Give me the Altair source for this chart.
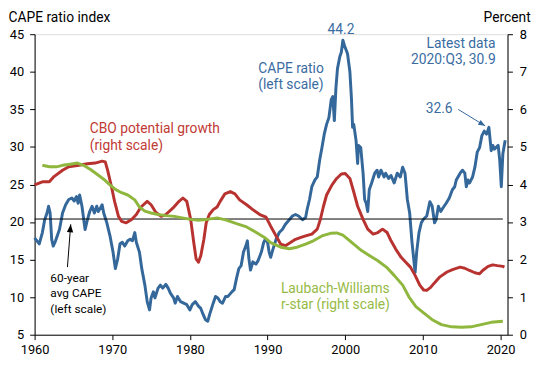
import altair as alt
import pandas as pd

# ---------------- data ----------------
cape_years = [1960.0, 1960.3, 1960.6, 1961.0, 1961.3, 1961.6, 1961.8, 1962.0, 1962.2, 1962.4,
              1962.7, 1963.2, 1963.6, 1964.0, 1964.4, 1964.8, 1965.1, 1965.4, 1965.6, 1965.8,
              1966.1, 1966.5, 1966.8, 1967.1, 1967.4, 1967.7, 1968.0, 1968.2, 1968.5, 1968.7,
              1968.9, 1969.3, 1969.7, 1970.1, 1970.4, 1970.7, 1971.0, 1971.3, 1971.6, 1972.0,
              1972.3, 1972.6, 1972.9, 1973.1, 1973.5, 1973.8, 1974.2, 1974.5, 1974.8, 1975.0,
              1975.3, 1975.5, 1975.9, 1976.2, 1976.5, 1976.9, 1977.2, 1977.5, 1977.9, 1978.1,
              1978.4, 1978.8, 1979.2, 1979.6, 1980.0, 1980.3, 1980.7, 1981.1, 1981.4, 1981.7,
              1982.0, 1982.3, 1982.6, 1983.0, 1983.3, 1983.6, 1983.9, 1984.2, 1984.6, 1984.9,
              1985.4, 1985.7, 1986.0, 1986.3, 1986.6, 1986.9, 1987.2, 1987.4, 1987.6, 1987.8,
              1988.1, 1988.5, 1988.8, 1989.2, 1989.5, 1989.7, 1990.0, 1990.2, 1990.4, 1990.7,
              1991.1, 1991.5, 1991.9, 1992.3, 1992.8, 1993.2, 1993.6, 1994.0, 1994.5, 1994.9,
              1995.1, 1995.4, 1995.7, 1996.1, 1996.4, 1996.7, 1997.0, 1997.3, 1997.6, 1997.9,
              1998.2, 1998.4, 1998.6, 1998.8, 1999.0, 1999.3, 1999.5, 1999.7, 1999.9, 2000.3,
              2000.6, 2000.8, 2000.95, 2001.1, 2001.4, 2001.6, 2001.7, 2002.0, 2002.3, 2002.5,
              2002.7, 2002.9, 2003.1, 2003.4, 2003.8, 2004.1, 2004.3, 2004.6, 2005.0, 2005.2,
              2005.6, 2005.9, 2006.3, 2006.7, 2007.1, 2007.4, 2007.7, 2008.0, 2008.3, 2008.6,
              2009.0, 2009.2, 2009.5, 2009.8, 2010.1, 2010.5, 2010.9, 2011.2, 2011.5, 2011.7,
              2012.0, 2012.3, 2012.6, 2013.0, 2013.4, 2013.8, 2014.1, 2014.3, 2014.8, 2015.1,
              2015.4, 2015.6, 2015.8, 2016.0, 2016.4, 2016.7, 2017.0, 2017.3, 2017.6, 2017.9,
              2018.2, 2018.5, 2018.8, 2019.0, 2019.2, 2019.5, 2019.7, 2019.9, 2020.1, 2020.3,
              2020.6]
cape_values = [17.9, 17.5, 17.1, 18.6, 20.3, 21.2, 22.1, 21.2, 17.7, 16.8,
               17.5, 19.0, 21.2, 22.3, 23.0, 23.2, 22.8, 23.4, 22.5, 23.6,
               22.1, 19.0, 20.3, 21.4, 22.1, 21.2, 22.1, 21.4, 21.9, 22.3,
               21.2, 19.9, 18.2, 16.0, 13.8, 15.1, 17.1, 17.3, 16.8, 17.5,
               17.7, 17.5, 18.6, 17.3, 16.0, 13.8, 11.6, 9.4, 8.3, 9.9,
               10.7, 9.9, 11.2, 11.6, 11.2, 11.7, 11.2, 10.5, 9.9, 9.2,
               10.1, 9.4, 9.2, 9.0, 8.3, 9.0, 9.4, 8.8, 8.5, 7.7,
               7.0, 6.8, 7.9, 9.2, 10.1, 9.9, 9.4, 9.2, 10.1, 10.1,
               10.7, 11.0, 12.5, 13.8, 14.2, 16.0, 16.8, 17.5, 15.1, 13.6,
               14.7, 14.4, 14.9, 16.0, 17.3, 17.7, 17.3, 16.0, 15.3, 16.4,
               17.7, 18.6, 19.0, 19.7, 20.3, 20.8, 21.0, 20.8, 20.3, 20.6,
               21.7, 23.0, 24.7, 25.6, 26.0, 28.2, 29.9, 31.7, 33.0, 33.9,
               36.3, 36.7, 33.5, 37.8, 40.4, 42.0, 42.6, 44.2, 43.5, 42.4,
               40.0, 36.5, 32.6, 33.0, 30.8, 27.8, 30.2, 29.9, 26.5, 23.0,
               22.5, 21.4, 24.3, 25.2, 26.5, 26.9, 26.0, 26.9, 26.0, 26.5,
               25.8, 26.2, 25.2, 26.5, 26.0, 27.3, 26.5, 23.0, 21.2, 17.3,
               13.3, 16.0, 18.6, 19.9, 20.4, 20.8, 22.7, 22.1, 19.9, 20.3,
               22.1, 21.4, 21.9, 22.5, 23.2, 24.3, 24.7, 25.6, 26.5, 26.9,
               26.5, 24.7, 25.6, 25.2, 26.0, 27.3, 29.3, 29.9, 31.5, 32.1,
               31.7, 32.6, 29.5, 30.2, 29.7, 30.0, 30.2, 28.2, 24.7, 29.1,
               30.9]

cbo_years = [1960.0, 1961.0, 1961.9, 1962.5, 1963.6, 1964.4, 1965.7, 1966.8, 1967.8, 1968.7,
             1969.1, 1969.4, 1969.9, 1970.3, 1970.8, 1971.2, 1971.8, 1972.5, 1973.1, 1973.7,
             1974.5, 1975.0, 1975.6, 1976.3, 1976.9, 1977.8, 1978.6, 1979.1, 1979.6, 1980.1,
             1980.5, 1980.8, 1981.1, 1981.4, 1981.8, 1982.1, 1982.5, 1983.0, 1983.5, 1983.9,
             1984.5, 1985.2, 1985.8, 1986.4, 1987.3, 1988.1, 1989.0, 1989.8, 1990.4, 1991.1,
             1991.7, 1992.3, 1993.0, 1993.6, 1994.3, 1994.9, 1995.7, 1996.4, 1996.8, 1997.2,
             1997.6, 1998.3, 1998.9, 1999.5, 2000.0, 2000.6, 2001.1, 2001.6, 2002.3, 2002.9,
             2003.6, 2004.2, 2004.8, 2005.4, 2005.9, 2006.5, 2007.2, 2007.8, 2008.4, 2009.0,
             2009.6, 2010.1, 2010.5, 2011.0, 2011.4, 2012.2, 2013.1, 2013.9, 2014.8, 2015.4,
             2016.0, 2016.7, 2017.3, 2017.7, 2018.4, 2019.0, 2019.6, 2020.3, 2020.5]
cbo_values = [3.99, 4.07, 4.07, 4.21, 4.38, 4.47, 4.51, 4.55, 4.57, 4.62,
              4.60, 4.38, 3.94, 3.55, 3.15, 3.02, 2.98, 3.07, 3.20, 3.40,
              3.55, 3.46, 3.26, 3.15, 3.20, 3.37, 3.55, 3.64, 3.55, 3.07,
              2.45, 2.02, 1.93, 2.10, 2.54, 2.98, 3.20, 3.33, 3.40, 3.55,
              3.75, 3.81, 3.75, 3.59, 3.46, 3.33, 3.20, 3.13, 2.89, 2.63,
              2.41, 2.37, 2.46, 2.54, 2.59, 2.63, 2.68, 2.81, 3.07, 3.42,
              3.72, 3.99, 4.16, 4.28, 4.29, 4.16, 3.80, 3.42, 3.07, 2.81,
              2.68, 2.72, 2.81, 2.72, 2.50, 2.28, 2.06, 1.93, 1.80, 1.58,
              1.32, 1.19, 1.18, 1.26, 1.36, 1.54, 1.67, 1.74, 1.80, 1.77,
              1.71, 1.65, 1.62, 1.71, 1.82, 1.86, 1.84, 1.82, 1.80]

rstar_years = [1961.0, 1961.9, 1962.8, 1963.6, 1964.6, 1965.5, 1966.3, 1967.2, 1968.0, 1968.9,
               1969.7, 1970.4, 1971.2, 1972.0, 1972.9, 1973.5, 1974.2, 1975.0, 1975.9, 1976.9,
               1978.0, 1979.0, 1980.1, 1980.9, 1982.2, 1983.5, 1984.7, 1986.0, 1987.3, 1988.5,
               1989.6, 1990.4, 1991.7, 1992.8, 1993.8, 1994.9, 1995.9, 1997.0, 1998.1, 1998.9,
               1999.7, 2000.6, 2001.1, 2002.1, 2003.1, 2004.2, 2005.3, 2006.3, 2007.4, 2008.2,
               2009.1, 2010.1, 2011.2, 2012.4, 2013.7, 2015.0, 2016.2, 2017.5, 2018.8, 2020.3]
rstar_values = [4.51, 4.47, 4.47, 4.51, 4.54, 4.57, 4.51, 4.40, 4.28, 4.14,
                3.99, 3.87, 3.78, 3.72, 3.59, 3.40, 3.29, 3.24, 3.20, 3.17,
                3.15, 3.11, 3.07, 3.05, 3.07, 3.11, 3.05, 2.96, 2.87, 2.73,
                2.59, 2.45, 2.33, 2.29, 2.33, 2.41, 2.50, 2.63, 2.70, 2.71,
                2.65, 2.50, 2.41, 2.24, 2.11, 1.97, 1.80, 1.58, 1.32, 1.01,
                0.75, 0.58, 0.40, 0.27, 0.21, 0.20, 0.21, 0.27, 0.33, 0.36]

avg_cape = 20.4
avg_span = [1960.0, 2020.3]

x_ticks = [1960, 1970, 1980, 1990, 2000, 2010, 2020]
left_ticks = [5, 10, 15, 20, 25, 30, 35, 40, 45]
right_ticks = [0, 1, 2, 3, 4, 5, 6, 7, 8]

# annotation anchors (data units)
arrow_avg = {"x": [1964.23, 1964.65], "y": [14.0, 19.69]}
arrow_peak = {"x": [2014.55, 2018.02], "y": [34.99, 32.8]}

BLUE = "#34679a"
RED = "#b83330"
GREEN = "#8fb73e"
BLUE_T = "#3a6ca2"
RED_T = "#bf3a34"
GREEN_T = "#96ba45"
FONT = "Roboto"

x_scale = alt.Scale(domain=[1960, 2020.9], nice=False, zero=False)
yl_scale = alt.Scale(domain=[5, 45], nice=False, zero=False)
yr_scale = alt.Scale(domain=[0, 8], nice=False, zero=False)

x_axis = alt.Axis(values=x_ticks, format="d", title=None, grid=False,
                  domainColor="black", tickColor="black", tickSize=5,
                  labelFontSize=13, labelColor="black", labelFont=FONT,
                  labelPadding=4, labelFlush=False)
left_axis = alt.Axis(values=left_ticks, orient="left", grid=False,
                     domainColor="black", tickColor="black", tickSize=5,
                     labelFontSize=13, labelColor="black", labelFont=FONT,
                     labelPadding=6,
                     title="CAPE ratio index", titleAngle=0, titleX=-27, titleY=-13,
                     titleAlign="left", titleBaseline="alphabetic",
                     titleFontSize=14, titleFontWeight="normal", titleFont=FONT,
                     titleColor="black")
right_axis = alt.Axis(values=right_ticks, orient="right", grid=False,
                      domainColor="black", tickColor="black", tickSize=5,
                      labelFontSize=13, labelColor="black", labelFont=FONT,
                      labelPadding=7,
                      title="Percent", titleAngle=0, titleX=23, titleY=-13,
                      titleAlign="right", titleBaseline="alphabetic",
                      titleFontSize=14, titleFontWeight="normal", titleFont=FONT,
                      titleColor="black")


def X(field):
    return alt.X(field, type="quantitative", scale=x_scale, axis=x_axis)


def YL(field):
    return alt.Y(field, type="quantitative", scale=yl_scale, axis=left_axis)


def YR(field):
    return alt.Y(field, type="quantitative", scale=yr_scale, axis=right_axis)


# ---------------- left-scale layers ----------------
cape_df = pd.DataFrame({"year": cape_years, "value": cape_values})
cape_line = alt.Chart(cape_df).mark_line(color=BLUE, strokeWidth=3, strokeJoin="round").encode(
    x=X("year"), y=YL("value"),
)

avg_df = pd.DataFrame({"year": [avg_span[0]], "year2": [avg_span[1]], "value": [avg_cape]})
avg_rule = alt.Chart(avg_df).mark_rule(color="black", strokeWidth=1).encode(
    x=X("year"), x2="year2:Q", y=YL("value"),
)

arr1_df = pd.DataFrame({"year": arrow_avg["x"], "value": arrow_avg["y"]})
arr1_line = alt.Chart(arr1_df).mark_line(color="black", strokeWidth=1).encode(x=X("year"), y=YL("value"))
arr1_head = alt.Chart(arr1_df.iloc[[1]]).mark_point(
    shape="M0,0L-0.4,1L0.4,1Z", size=256, filled=True, opacity=1, color="black", angle=5,
).encode(x=X("year"), y=YL("value"))

arr2_df = pd.DataFrame({"year": arrow_peak["x"], "value": arrow_peak["y"]})
arr2_line = alt.Chart(arr2_df).mark_line(color=BLUE, strokeWidth=1).encode(x=X("year"), y=YL("value"))
arr2_head = alt.Chart(arr2_df.iloc[[1]]).mark_point(
    shape="M0,0L-0.4,1L0.4,1Z", size=196, filled=True, opacity=1, color=BLUE, angle=121,
).encode(x=X("year"), y=YL("value"))


def text_layer(x, y, label, color, align, yfn, size=14, lh=17):
    df = pd.DataFrame({"year": [x], "value": [y], "t": [label]})
    return alt.Chart(df).mark_text(
        align=align, baseline="alphabetic", font=FONT, fontSize=size, color=color,
        lineBreak="\n", lineHeight=lh,
    ).encode(x=X("year"), y=yfn("value"), text="t:N")


t_cape = text_layer(1988.8, 39.89, "CAPE ratio\n(left scale)", BLUE_T, "left", YL)
t_peak = text_layer(1999.45, 45.0, "44.2", BLUE_T, "center", YL)
t_latest = text_layer(2019.37, 43.23, "Latest data\n2020:Q3, 30.9", BLUE_T, "right", YL)
t_326 = text_layer(2010.37, 34.57, "32.6", BLUE_T, "left", YL)
t_avg = text_layer(1962.03, 12.08, "60-year\navg CAPE\n(left scale)", "black", "left", YL, size=12, lh=16)

left = alt.layer(cape_line, avg_rule, arr1_line, arr1_head, arr2_line, arr2_head,
                 t_cape, t_peak, t_latest, t_326, t_avg)

# ---------------- right-scale layers ----------------
rdf = pd.concat([
    pd.DataFrame({"year": cbo_years, "value": cbo_values, "series": "CBO"}),
    pd.DataFrame({"year": rstar_years, "value": rstar_values, "series": "rstar"}),
])
right_lines = alt.Chart(rdf).mark_line(strokeWidth=3, strokeJoin="round").encode(
    x=X("year"), y=YR("value"),
    color=alt.Color("series:N", scale=alt.Scale(domain=["CBO", "rstar"], range=[RED, GREEN]), legend=None),
)
t_cbo = text_layer(1967.1, 5.36, "CBO potential growth\n(right scale)", RED_T, "left", YR)
t_lw = text_layer(1991.72, 1.12, "Laubach-Williams\nr-star (right scale)", GREEN_T, "left", YR)

right = alt.layer(right_lines, t_cbo, t_lw)

chart = alt.layer(left, right).resolve_scale(y="independent").properties(
    width=480, height=305,
    autosize=alt.AutoSizeParams(type="none"),
    padding={"left": 27, "top": 24, "right": 35, "bottom": 20},
).configure_view(stroke=None).configure(font=FONT, background="white")

chart.save("out.html", embed_options={"renderer": "svg", "actions": False})
